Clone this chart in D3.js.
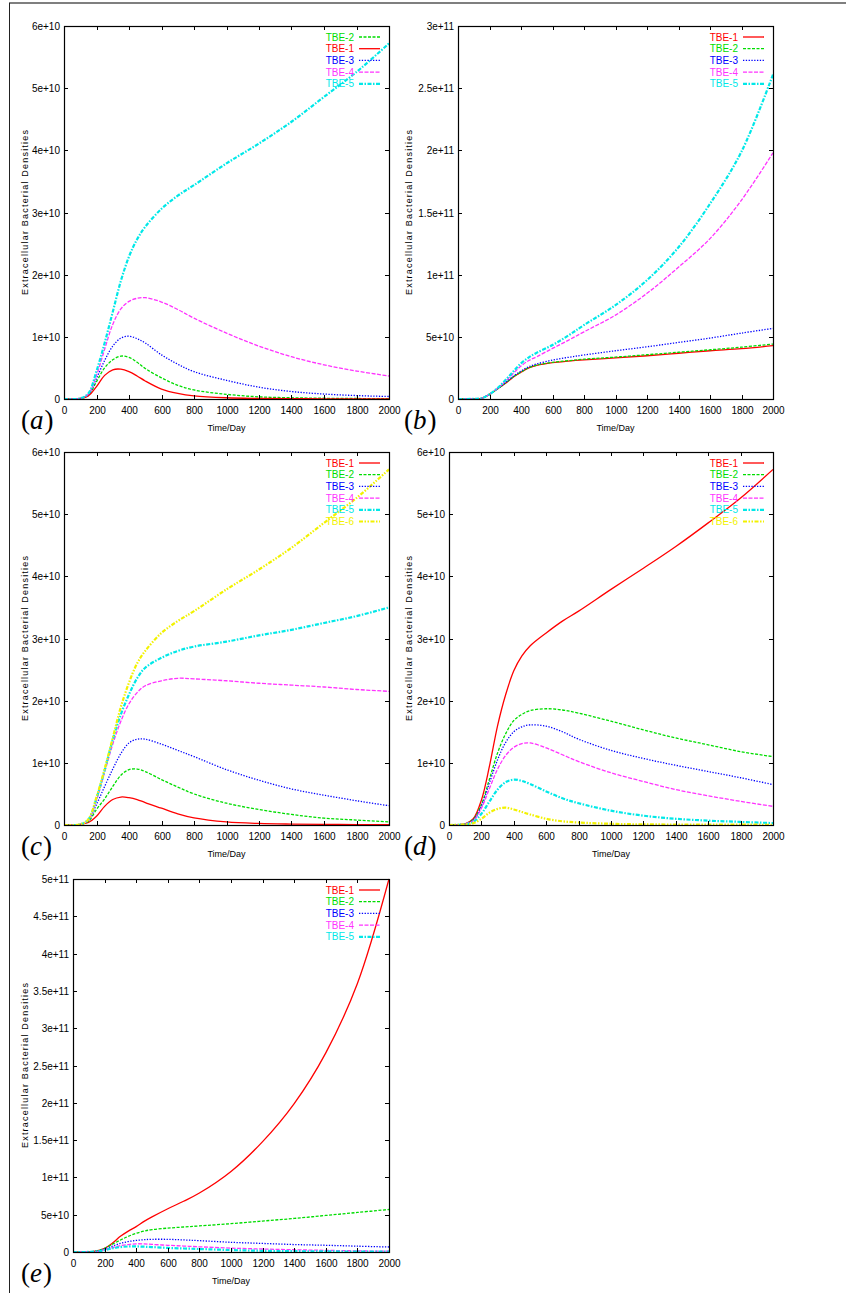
<!DOCTYPE html>
<html>
<head>
<meta charset="utf-8">
<script src="https://cdn.jsdelivr.net/npm/d3@7"></script>
<style>
  body { margin: 0; background: #fff; }
  svg { display: block; }
  .tick-label { font-family: "Liberation Sans Narrow", "Liberation Sans", Arial, sans-serif; font-size: 10px; fill: #000; }
  .legend-label { font-family: "Liberation Sans Narrow", "Liberation Sans", Arial, sans-serif; font-size: 10px; }
  .axis-title { font-family: "Liberation Sans", Arial, sans-serif; font-size: 9px; fill: #000; }
  .panel-label { font-family: "Liberation Serif", "DejaVu Serif", serif; font-size: 27px; fill: #000; }
</style>
</head>
<body>
<svg id="fig" width="846" height="1293"></svg>
<script>
// time grid shared by all panels (days)
const days = [0, 100, 150, 200, 250, 300, 350, 400, 450, 500, 600, 700, 800, 1000, 1200, 1400, 1600, 1800, 2000];

// all densities below are in units of 1e10
const a_tbe1 = [0, 0.01, 0.05, 0.2, 0.38, 0.47, 0.48, 0.44, 0.37, 0.29, 0.16, 0.09, 0.05, 0.02, 0.01, 0.005, 0.003, 0.002, 0.001];
const a_tbe2 = [0, 0.01, 0.06, 0.28, 0.5, 0.63, 0.69, 0.67, 0.59, 0.49, 0.34, 0.22, 0.145, 0.075, 0.035, 0.02, 0.012, 0.008, 0.005];
const a_tbe3 = [0, 0.01, 0.07, 0.33, 0.62, 0.85, 0.98, 1.01, 0.97, 0.9, 0.71, 0.56, 0.44, 0.3, 0.19, 0.12, 0.08, 0.055, 0.04];
const a_tbe4 = [0, 0.01, 0.08, 0.38, 0.8, 1.2, 1.45, 1.57, 1.62, 1.63, 1.56, 1.44, 1.3, 1.06, 0.85, 0.68, 0.55, 0.45, 0.37];
const a_tbe5 = [0, 0.01, 0.09, 0.45, 0.9, 1.4, 1.9, 2.29, 2.57, 2.77, 3.06, 3.27, 3.44, 3.79, 4.11, 4.46, 4.86, 5.26, 5.72];

const b_tbe1 = [0, 0.01, 0.06, 0.37, 0.8, 1.25, 1.75, 2.15, 2.5, 2.7, 2.92, 3.05, 3.15, 3.3, 3.48, 3.68, 3.88, 4.05, 4.29];
const b_tbe2 = [0, 0.01, 0.06, 0.37, 0.8, 1.27, 1.77, 2.17, 2.52, 2.72, 2.95, 3.08, 3.2, 3.37, 3.56, 3.76, 3.96, 4.17, 4.42];
const b_tbe3 = [0, 0.01, 0.06, 0.38, 0.82, 1.3, 1.82, 2.25, 2.6, 2.82, 3.13, 3.35, 3.54, 3.88, 4.2, 4.55, 4.9, 5.3, 5.68];
const b_tbe4 = [0, 0.01, 0.06, 0.38, 0.85, 1.4, 2.05, 2.65, 3.1, 3.4, 4.07, 4.72, 5.4, 6.75, 8.5, 10.6, 12.9, 16.0, 19.8];
const b_tbe5 = [0, 0.01, 0.06, 0.38, 0.87, 1.5, 2.2, 2.87, 3.35, 3.72, 4.34, 5.1, 5.95, 7.55, 9.56, 12.2, 15.7, 19.9, 26.1];

const c_tbe1 = [0, 0.01, 0.04, 0.14, 0.3, 0.41, 0.45, 0.44, 0.41, 0.36, 0.27, 0.18, 0.115, 0.05, 0.025, 0.015, 0.01, 0.007, 0.005];
const c_tbe2 = [0, 0.01, 0.06, 0.25, 0.42, 0.62, 0.8, 0.89, 0.9, 0.86, 0.73, 0.61, 0.5, 0.35, 0.25, 0.17, 0.11, 0.08, 0.05];
const c_tbe3 = [0, 0.01, 0.07, 0.33, 0.62, 0.9, 1.15, 1.32, 1.38, 1.38, 1.3, 1.2, 1.1, 0.89, 0.72, 0.58, 0.48, 0.39, 0.31];
const c_tbe4 = [0, 0.01, 0.08, 0.4, 0.85, 1.3, 1.67, 1.95, 2.13, 2.24, 2.32, 2.36, 2.35, 2.32, 2.28, 2.25, 2.22, 2.18, 2.15];
const c_tbe5 = [0, 0.01, 0.09, 0.43, 0.88, 1.37, 1.78, 2.1, 2.36, 2.53, 2.69, 2.8, 2.87, 2.95, 3.05, 3.14, 3.25, 3.36, 3.5];
const c_tbe6 = [0, 0.01, 0.09, 0.45, 0.9, 1.4, 1.9, 2.29, 2.6, 2.8, 3.09, 3.28, 3.44, 3.79, 4.11, 4.46, 4.86, 5.26, 5.72];

const d_tbe1 = [0, 0.02, 0.1, 0.4, 0.95, 1.6, 2.1, 2.48, 2.72, 2.88, 3.09, 3.28, 3.44, 3.79, 4.13, 4.48, 4.86, 5.26, 5.72];
const d_tbe2 = [0, 0.02, 0.09, 0.33, 0.74, 1.16, 1.47, 1.68, 1.78, 1.84, 1.87, 1.85, 1.8, 1.67, 1.53, 1.4, 1.29, 1.18, 1.1];
const d_tbe3 = [0, 0.02, 0.08, 0.3, 0.68, 1.05, 1.33, 1.5, 1.58, 1.61, 1.59, 1.5, 1.38, 1.2, 1.07, 0.96, 0.86, 0.76, 0.65];
const d_tbe4 = [0, 0.02, 0.07, 0.27, 0.59, 0.9, 1.12, 1.25, 1.31, 1.32, 1.24, 1.13, 1.02, 0.84, 0.7, 0.57, 0.47, 0.38, 0.3];
const d_tbe5 = [0, 0.01, 0.05, 0.18, 0.38, 0.57, 0.69, 0.73, 0.71, 0.66, 0.54, 0.43, 0.35, 0.23, 0.15, 0.1, 0.07, 0.05, 0.03];
const d_tbe6 = [0, 0.01, 0.03, 0.1, 0.2, 0.26, 0.28, 0.25, 0.21, 0.17, 0.1, 0.06, 0.04, 0.02, 0.01, 0.008, 0.006, 0.005, 0.004];

const e_tbe1 = [0, 0.02, 0.15, 0.5, 1.2, 2.1, 2.8, 3.4, 4.1, 4.7, 5.8, 6.8, 7.9, 10.8, 14.8, 19.9, 26.7, 36.0, 50.0];
const e_tbe2 = [0, 0.02, 0.15, 0.5, 1.05, 1.6, 2.1, 2.5, 2.8, 3.0, 3.2, 3.35, 3.5, 3.8, 4.15, 4.5, 4.9, 5.3, 5.7];
const e_tbe3 = [0, 0.01, 0.1, 0.4, 0.8, 1.15, 1.4, 1.55, 1.65, 1.7, 1.7, 1.62, 1.52, 1.3, 1.15, 1.0, 0.9, 0.78, 0.67];
const e_tbe4 = [0, 0.01, 0.08, 0.3, 0.6, 0.85, 1.0, 1.1, 1.08, 1.02, 0.9, 0.8, 0.7, 0.52, 0.4, 0.3, 0.22, 0.15, 0.1];
const e_tbe5 = [0, 0.01, 0.07, 0.25, 0.5, 0.66, 0.74, 0.75, 0.71, 0.66, 0.55, 0.47, 0.4, 0.26, 0.16, 0.11, 0.08, 0.06, 0.04];

// axis ticks and labels
const xTicks = [0, 200, 400, 600, 800, 1000, 1200, 1400, 1600, 1800, 2000];
const yTicks6e10 = [0, 1, 2, 3, 4, 5, 6];
const yLabels6e10 = ["0", "1e+10", "2e+10", "3e+10", "4e+10", "5e+10", "6e+10"];
const yTicks3e11 = [0, 5, 10, 15, 20, 25, 30];
const yLabels3e11 = ["0", "5e+10", "1e+11", "1.5e+11", "2e+11", "2.5e+11", "3e+11"];
const yTicks5e11 = [0, 5, 10, 15, 20, 25, 30, 35, 40, 45, 50];
const yLabels5e11 = ["0", "5e+10", "1e+11", "1.5e+11", "2e+11", "2.5e+11", "3e+11", "3.5e+11", "4e+11", "4.5e+11", "5e+11"];

const seriesNames = ["TBE-1", "TBE-2", "TBE-3", "TBE-4", "TBE-5", "TBE-6"];
const yTitle = "Extracellular Bacterial Densities";
const xTitle = "Time/Day";

// gnuplot-like line styles per series index
const styles = [
    { color: "#ff0000", dash: null, width: 1.3 },
    { color: "#00dd00", dash: "3,1.5", width: 1.3 },
    { color: "#0000ff", dash: "1.3,1.5", width: 1.3 },
    { color: "#ff33ff", dash: "4,1.5", width: 1.3 },
    { color: "#00e8e8", dash: "4,1.5,1.5,1.5", width: 2.2 },
    { color: "#f2f200", dash: "4,1.5,1.5,1.5,1.5,1.5", width: 2.2 }
];

const svg = d3.select("#fig");

// outer frame bits
svg.append("line").attr("x1", 9).attr("x2", 846).attr("y1", 3).attr("y2", 3)
    .attr("stroke", "#555").attr("stroke-width", 1.5);
svg.append("line").attr("x1", 9.5).attr("x2", 9.5).attr("y1", 3).attr("y2", 1293)
    .attr("stroke", "#222").attr("stroke-width", 1);

function drawPanel(p) {
    const xScale = d3.scaleLinear().domain([0, 2000]).range([p.left, p.right]);
    const yScale = d3.scaleLinear().domain([0, p.yMax]).range([p.bottom, p.top]);
    const g = svg.append("g");

    // clip so curves stay inside the box
    const clipId = "clip-" + p.tag;
    g.append("clipPath").attr("id", clipId).append("rect")
        .attr("x", p.left).attr("y", p.top - 1)
        .attr("width", p.right - p.left).attr("height", p.bottom - p.top + 2);

    // curves
    const line = d3.line()
        .curve(d3.curveCatmullRom.alpha(0.5))
        .x((d, i) => xScale(days[i]))
        .y(d => yScale(Math.max(0, d)));

    p.series.forEach(s => {
        const st = styles[s.style];
        g.append("path")
            .datum(s.values)
            .attr("clip-path", `url(#${clipId})`)
            .attr("fill", "none")
            .attr("stroke", st.color)
            .attr("stroke-width", st.width)
            .attr("stroke-dasharray", st.dash)
            .attr("stroke-linejoin", "round")
            .attr("d", line);
    });

    // ticks on all four sides (gnuplot mirror style)
    const tl = 4;
    p.yTicks.forEach((t, i) => {
        const y = Math.round(yScale(t)) + 0.5;
        g.append("line").attr("x1", p.left).attr("x2", p.left + tl).attr("y1", y).attr("y2", y).attr("stroke", "#000");
        g.append("line").attr("x1", p.right).attr("x2", p.right - tl).attr("y1", y).attr("y2", y).attr("stroke", "#000");
        g.append("text").attr("class", "tick-label")
            .attr("x", p.left - 4).attr("y", y + 3.5)
            .attr("text-anchor", "end")
            .text(p.yLabels[i]);
    });
    xTicks.forEach(t => {
        const x = Math.round(xScale(t)) + 0.5;
        g.append("line").attr("x1", x).attr("x2", x).attr("y1", p.bottom).attr("y2", p.bottom - tl).attr("stroke", "#000");
        g.append("line").attr("x1", x).attr("x2", x).attr("y1", p.top).attr("y2", p.top + tl).attr("stroke", "#000");
        g.append("text").attr("class", "tick-label")
            .attr("x", x).attr("y", p.bottom + 15)
            .attr("text-anchor", "middle")
            .text(t);
    });

    // box
    g.append("rect")
        .attr("x", p.left + 0.5).attr("y", p.top + 0.5)
        .attr("width", p.right - p.left).attr("height", p.bottom - p.top)
        .attr("fill", "none").attr("stroke", "#000").attr("stroke-width", 1.2);

    // legend
    p.series.forEach((s, i) => {
        const st = styles[s.style];
        const y = p.top + 11 + i * 11.7;
        g.append("text").attr("class", "legend-label")
            .attr("x", p.right - 35).attr("y", y + 3.5)
            .attr("text-anchor", "end")
            .attr("fill", st.color)
            .text(s.name);
        g.append("line")
            .attr("x1", p.right - 30).attr("x2", p.right - 9)
            .attr("y1", y).attr("y2", y)
            .attr("stroke", st.color)
            .attr("stroke-width", st.width)
            .attr("stroke-dasharray", st.dash);
    });

    // axis titles
    g.append("text").attr("class", "axis-title")
        .attr("x", (p.left + p.right) / 2).attr("y", p.bottom + 32)
        .attr("text-anchor", "middle")
        .text(xTitle);
    const cy = (p.top + p.bottom) / 2;
    g.append("text").attr("class", "axis-title")
        .attr("transform", `translate(${p.titleX}, ${cy}) rotate(-90)`)
        .attr("text-anchor", "middle")
        .attr("textLength", 165).attr("lengthAdjust", "spacing")
        .text(yTitle);

    // panel label, math style: upright parens, italic letter
    const lab = g.append("text").attr("class", "panel-label")
        .attr("x", p.labelX).attr("y", p.bottom + 30);
    lab.append("tspan").text("(");
    lab.append("tspan").attr("font-style", "italic").text(p.label);
    lab.append("tspan").attr("dx", 1).text(")");
}

function mk(names, styleIdx, arrays) {
    return arrays.map((v, i) => ({ name: names[i], style: styleIdx[i], values: v }));
}

const panels = [
    { tag: "a", label: "a", left: 64, right: 389, top: 26, bottom: 399, titleX: 28, labelX: 21,
      yMax: 6, yTicks: yTicks6e10, yLabels: yLabels6e10,
      series: mk(["TBE-2", "TBE-1", "TBE-3", "TBE-4", "TBE-5"], [1, 0, 2, 3, 4], [a_tbe2, a_tbe1, a_tbe3, a_tbe4, a_tbe5]) },
    { tag: "b", label: "b", left: 458, right: 773, top: 26, bottom: 399, titleX: 412, labelX: 404,
      yMax: 30, yTicks: yTicks3e11, yLabels: yLabels3e11,
      series: mk(seriesNames, [0, 1, 2, 3, 4], [b_tbe1, b_tbe2, b_tbe3, b_tbe4, b_tbe5]) },
    { tag: "c", label: "c", left: 64, right: 389, top: 452, bottom: 825, titleX: 28, labelX: 21,
      yMax: 6, yTicks: yTicks6e10, yLabels: yLabels6e10,
      series: mk(seriesNames, [0, 1, 2, 3, 4, 5], [c_tbe1, c_tbe2, c_tbe3, c_tbe4, c_tbe5, c_tbe6]) },
    { tag: "d", label: "d", left: 449, right: 773, top: 452, bottom: 825, titleX: 412, labelX: 404,
      yMax: 6, yTicks: yTicks6e10, yLabels: yLabels6e10,
      series: mk(seriesNames, [0, 1, 2, 3, 4, 5], [d_tbe1, d_tbe2, d_tbe3, d_tbe4, d_tbe5, d_tbe6]) },
    { tag: "e", label: "e", left: 73, right: 389, top: 879, bottom: 1252, titleX: 28, labelX: 21,
      yMax: 50, yTicks: yTicks5e11, yLabels: yLabels5e11,
      series: mk(seriesNames, [0, 1, 2, 3, 4], [e_tbe1, e_tbe2, e_tbe3, e_tbe4, e_tbe5]) }
];

panels.forEach(drawPanel);
</script>
</body>
</html>
